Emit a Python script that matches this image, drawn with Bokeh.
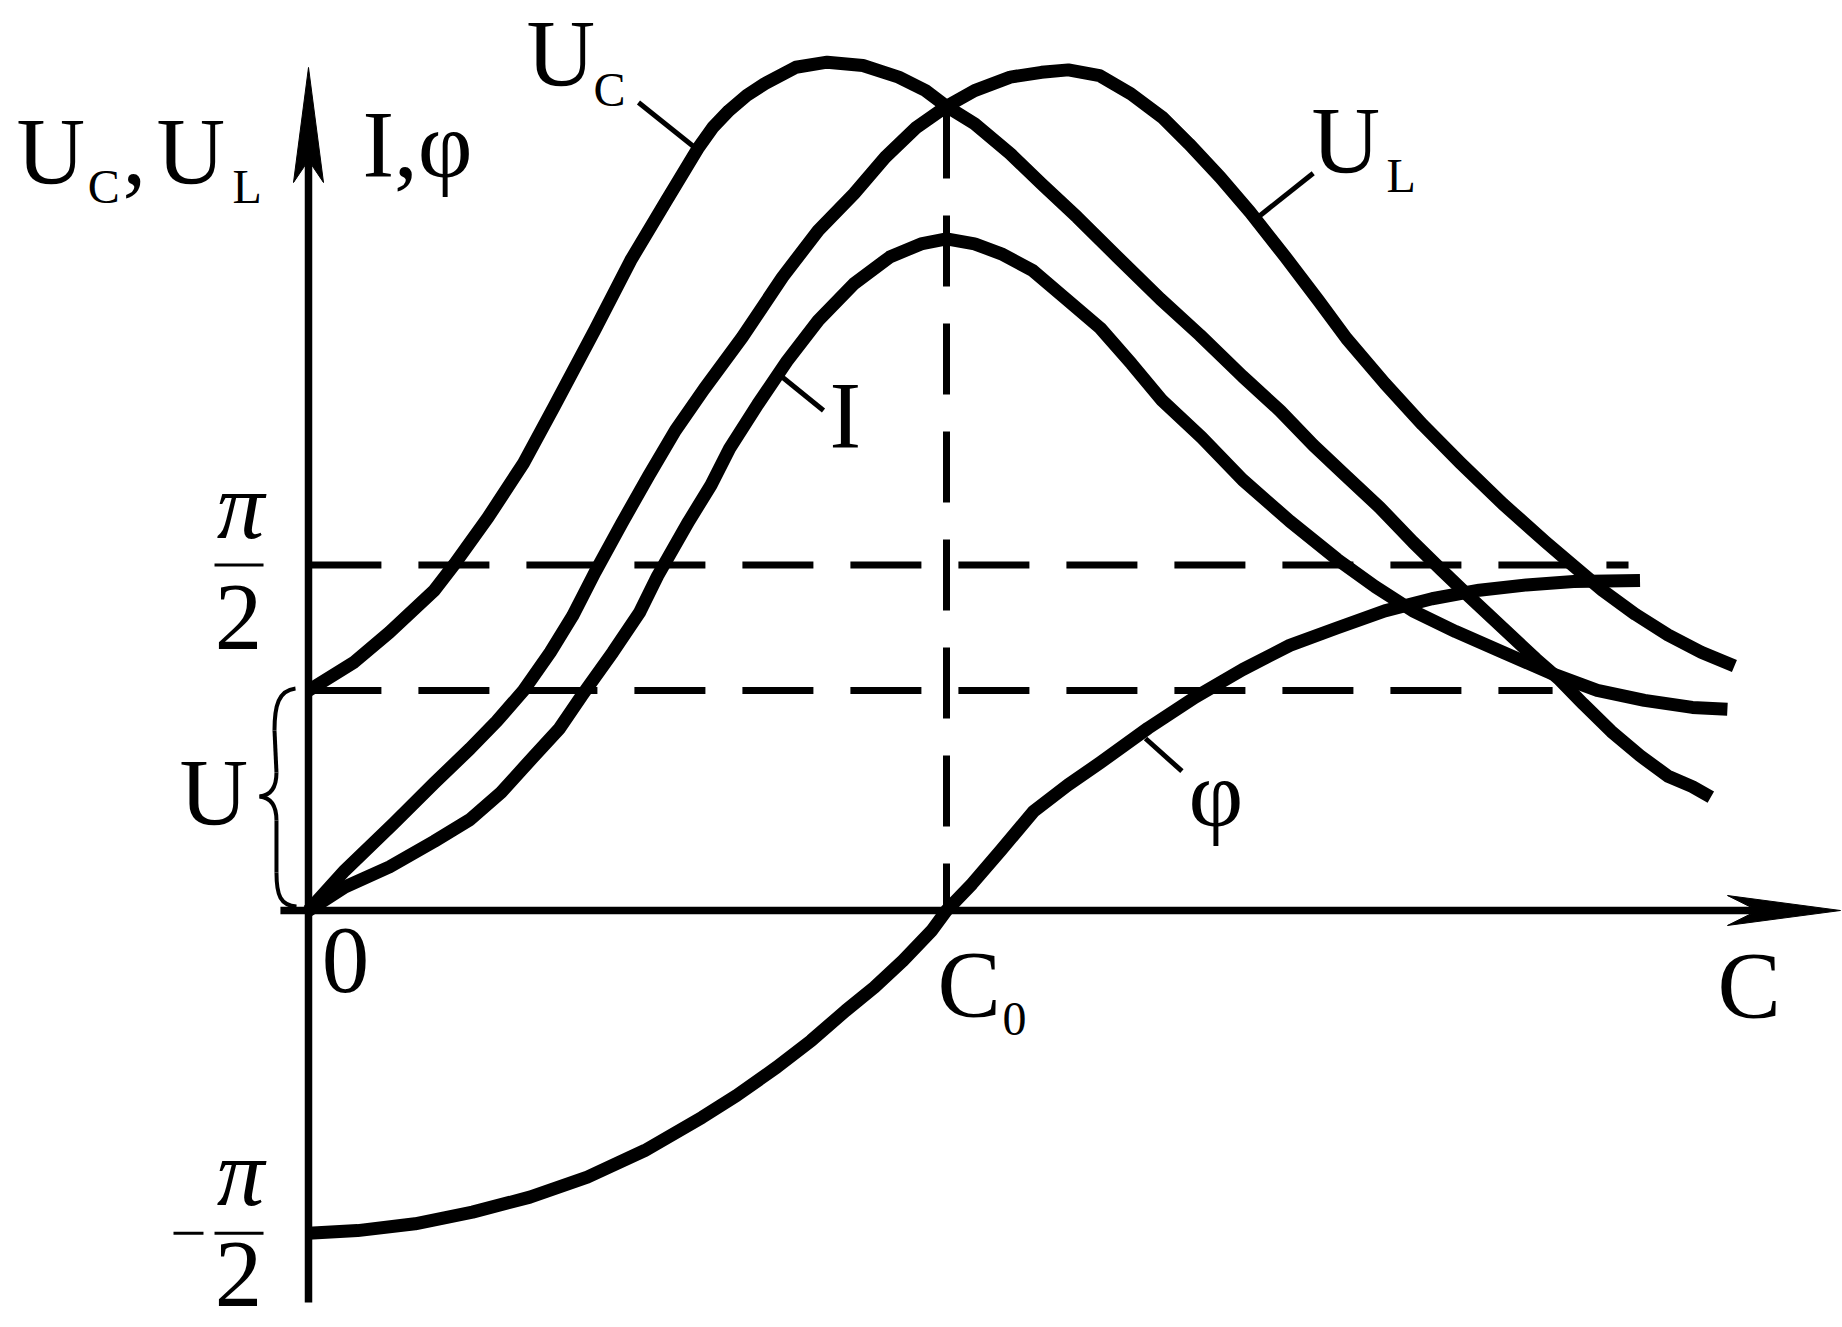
import math
from bokeh.plotting import figure
from bokeh.models import Range1d, ColumnDataSource
from bokeh.core.properties import value
from bokeh.embed import file_html
from bokeh.resources import INLINE

# ---------------- data (x in units of C/C0, y in units of U; phi in radians) -------------
uc_x = [0.000, 0.072, 0.127, 0.197, 0.229, 0.281, 0.337, 0.385, 0.449, 0.505, 0.561, 0.610,
        0.634, 0.659, 0.687, 0.715, 0.764, 0.813, 0.869, 0.925, 0.967, 1.000, 1.044, 1.100,
        1.149, 1.205, 1.268, 1.335, 1.397, 1.464, 1.523, 1.575, 1.627, 1.679, 1.731, 1.775,
        1.820, 1.872, 1.924, 1.961, 1.998, 2.042, 2.087, 2.131, 2.169, 2.198]
uc_y = [1.000, 1.130, 1.265, 1.455, 1.575, 1.785, 2.033, 2.290, 2.640, 2.955, 3.227, 3.462,
        3.560, 3.636, 3.705, 3.758, 3.833, 3.856, 3.841, 3.788, 3.727, 3.655, 3.576, 3.440,
        3.303, 3.151, 2.970, 2.780, 2.616, 2.428, 2.271, 2.115, 1.973, 1.832, 1.675, 1.550,
        1.425, 1.284, 1.143, 1.049, 0.939, 0.814, 0.704, 0.610, 0.563, 0.515]

ul_x = [0.000, 0.057, 0.134, 0.197, 0.253, 0.295, 0.337, 0.379, 0.414, 0.449, 0.491, 0.533,
        0.575, 0.620, 0.680, 0.743, 0.799, 0.855, 0.904, 0.953, 1.000, 1.044, 1.100, 1.149,
        1.191, 1.240, 1.289, 1.338, 1.380, 1.429, 1.476, 1.530, 1.583, 1.627, 1.687, 1.746,
        1.805, 1.872, 1.939, 1.983, 2.028, 2.080, 2.131, 2.183, 2.235]
ul_y = [0.000, 0.182, 0.397, 0.579, 0.735, 0.860, 1.000, 1.174, 1.339, 1.537, 1.760, 1.975,
        2.182, 2.370, 2.606, 2.879, 3.091, 3.258, 3.424, 3.560, 3.655, 3.727, 3.788, 3.810,
        3.821, 3.795, 3.712, 3.606, 3.485, 3.333, 3.174, 2.975, 2.773, 2.600, 2.396, 2.209,
        2.036, 1.848, 1.675, 1.566, 1.456, 1.346, 1.252, 1.174, 1.111]

i_x = [0.000, 0.057, 0.127, 0.197, 0.253, 0.302, 0.351, 0.393, 0.428, 0.477, 0.519, 0.547,
       0.596, 0.631, 0.660, 0.704, 0.750, 0.799, 0.855, 0.911, 0.960, 1.000, 1.044, 1.086,
       1.135, 1.184, 1.241, 1.290, 1.338, 1.400, 1.464, 1.538, 1.612, 1.672, 1.731, 1.798,
       1.872, 1.946, 2.020, 2.094, 2.169, 2.224]
i_y = [0.000, 0.107, 0.198, 0.314, 0.413, 0.537, 0.694, 0.826, 0.975, 1.174, 1.355, 1.520,
       1.769, 1.934, 2.100, 2.300, 2.497, 2.682, 2.849, 2.970, 3.030, 3.053, 3.030, 2.985,
       2.909, 2.788, 2.647, 2.485, 2.318, 2.150, 1.958, 1.770, 1.597, 1.472, 1.362, 1.268,
       1.174, 1.080, 1.001, 0.955, 0.923, 0.915]

phi_x = [0.000, 0.077, 0.167, 0.257, 0.347, 0.437, 0.527, 0.617, 0.671, 0.734, 0.788, 0.842,
         0.887, 0.932, 0.977, 1.000, 1.040, 1.085, 1.137, 1.190, 1.241, 1.316, 1.390, 1.464,
         1.538, 1.612, 1.687, 1.761, 1.835, 1.909, 1.983, 2.087]
phi_y = [-1.467, -1.455, -1.424, -1.371, -1.303, -1.212, -1.091, -0.940, -0.841, -0.712,
         -0.591, -0.455, -0.349, -0.227, -0.091, 0.000, 0.121, 0.273, 0.452, 0.570, 0.672,
         0.829, 0.970, 1.095, 1.205, 1.284, 1.362, 1.417, 1.456, 1.480, 1.495, 1.500]

U_LEVEL = 1.0
PI_HALF = math.pi / 2
PHI_START = phi_y[0]          # where the -pi/2 mark is drawn
C0 = 1.0

# ---------------- figure ----------------
W, H = 1842, 1327
PX_X, PX_Y = 638.0, 220.0     # pixels per data unit
X0 = -308.0 / PX_X
Y1 = 910.0 / PX_Y
p = figure(width=W, height=H,
           x_range=Range1d(X0, X0 + W / PX_X), y_range=Range1d(Y1 - H / PX_Y, Y1),
           x_axis_type=None, y_axis_type=None, toolbar_location=None,
           output_backend="svg", min_border=0, outline_line_color=None,
           background_fill_color="white", border_fill_color="white")
p.grid.visible = False

BLACK = "black"
FONT = value("Liberation Serif")

# dashed guide lines
DASH = "71 37"
p.line([0.003, 2.069], [PI_HALF, PI_HALF], line_width=7, line_color=BLACK, line_dash=DASH)
p.line([0.003, 1.950], [U_LEVEL, U_LEVEL], line_width=7, line_color=BLACK, line_dash=DASH)
p.line([C0, C0], [3.65, 0.0], line_width=7, line_color=BLACK, line_dash=DASH)

# axes with arrows
p.line([-0.044, 2.28], [0, 0], line_width=7.5, line_color=BLACK)
p.line([0, 0], [-1.782, 3.45], line_width=7.5, line_color=BLACK)
p.patch([2.4013, 2.2241, 2.2712, 2.2241], [0, 0.068, 0, -0.068], color=BLACK, line_width=1)
p.patch([0, 0.0235, 0, -0.0235], [3.832, 3.309, 3.41, 3.309], color=BLACK, line_width=1)

# curves
for xs, ys in [(uc_x, uc_y), (ul_x, ul_y), (i_x, i_y), (phi_x, phi_y)]:
    p.line(xs, ys, line_width=13, line_color=BLACK, line_join="round")

# leader lines
p.segment(x0=[0.5172, 1.5748, 0.7429, 1.3119], y0=[3.6727, 3.3514, 2.4241, 0.7818],
          x1=[0.6113, 1.4881, 0.8072, 1.3690], y1=[3.4545, 3.1514, 2.2727, 0.6332],
          line_width=5, line_color=BLACK)

# fraction bars and minus sign
p.segment(x0=[-0.1473, -0.1473, -0.2116], y0=[PI_HALF, PHI_START, PHI_START],
          x1=[-0.0705, -0.0705, -0.1646], y1=[PI_HALF, PHI_START, PHI_START],
          line_width=3, line_color=BLACK)

# brace marking U
p.bezier(x0=[-0.0204, -0.0502, -0.0768, -0.0502],
         y0=[1.0091, 0.6273, 0.5182, 0.1727],
         x1=[-0.0533, -0.0768, -0.0502, -0.0188],
         y1=[0.8182, 0.5182, 0.4091, 0.0182],
         cx0=[-0.0470, -0.0502, -0.0596, -0.0502],
         cy0=[1.0000, 0.5545, 0.5136, 0.0682],
         cx1=[-0.0533, -0.0596, -0.0502, -0.0439],
         cy1=[0.9318, 0.5227, 0.4818, 0.0227],
         line_width=4, line_color=BLACK)
p.segment(x0=[-0.0533, -0.0502], y0=[0.8182, 0.4091], x1=[-0.0502, -0.0502], y1=[0.6273, 0.1727],
          line_width=4, line_color=BLACK)

# texts (y given as baseline; shifted because the svg text is anchored at its centre line)
BIG, SMALL = 95, 48
SHIFT_BIG = 0.3375 * BIG / PX_Y
SHIFT_SMALL = 0.3375 * SMALL / PX_Y

big_left = dict(
    x=[-0.4577, -0.2915, -0.2382, 0.0846, 0.3417, 1.5721, 0.8166, 1.3793, -0.2022, 0.9859, 2.2085],
    y=[3.300, 3.300, 3.300, 3.332, 3.746, 3.350, 2.100, 0.386, 0.3864, -0.4864, -0.4909],
    text=["U", ",", "U", "I,φ", "U", "U", "I", "φ", "U", "C", "C"])
big_left["y"] = [v + SHIFT_BIG for v in big_left["y"]]
p.text(x="x", y="y", text="text", source=ColumnDataSource(big_left), text_font=FONT,
       text_font_size=f"{BIG}px", text_baseline="alphabetic", text_align="left", text_color=BLACK)

small_left = dict(
    x=[-0.3460, -0.1191, 0.4467, 1.6897, 1.0878],
    y=[3.218, 3.218, 3.659, 3.268, -0.5682],
    text=["C", "L", "C", "L", "0"])
small_left["y"] = [v + SHIFT_SMALL for v in small_left["y"]]
p.text(x="x", y="y", text="text", source=ColumnDataSource(small_left), text_font=FONT,
       text_font_size=f"{SMALL}px", text_baseline="alphabetic", text_align="left", text_color=BLACK)

pi_src = dict(x=[-0.1066, -0.1066],
              y=[PI_HALF + 0.123 + SHIFT_BIG, PHI_START + 0.127 + SHIFT_BIG],
              text=["π", "π"])
p.text(x="x", y="y", text="text", source=ColumnDataSource(pi_src), text_font=FONT,
       text_font_size=f"{BIG}px", text_font_style="italic", text_baseline="alphabetic",
       text_align="center", text_color=BLACK)

big_center = dict(
    x=[-0.1097, -0.1097, 0.058],
    y=[PI_HALF - 0.386, PHI_START - 0.335, -0.3727],
    text=["2", "2", "0"])
big_center["y"] = [v + SHIFT_BIG for v in big_center["y"]]
p.text(x="x", y="y", text="text", source=ColumnDataSource(big_center), text_font=FONT,
       text_font_size=f"{BIG}px", text_baseline="alphabetic", text_align="center", text_color=BLACK)

open("out.html", "w").write(file_html(p, INLINE))
